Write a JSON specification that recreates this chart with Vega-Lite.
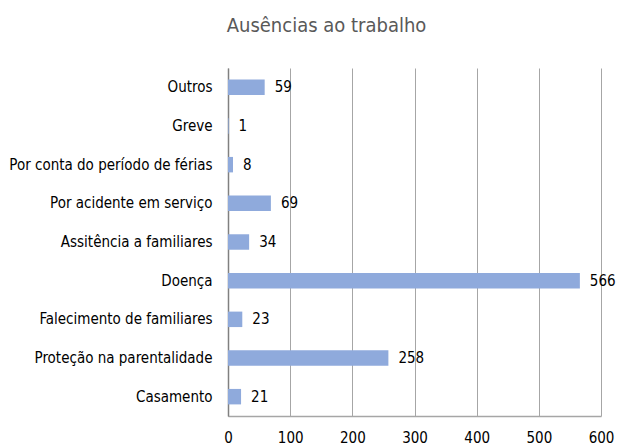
{
  "$schema": "https://vega.github.io/schema/vega-lite/v6.json",
  "width": 373,
  "height": 348,
  "autosize": {"type": "none"},
  "padding": {"left": 228, "top": 68, "right": 16, "bottom": 29},
  "background": "white",
  "title": {
    "text": "Ausências ao trabalho",
    "font": "DejaVu Sans Condensed",
    "fontSize": 20,
    "fontWeight": "normal",
    "color": "#595959",
    "anchor": "middle",
    "dx": -88,
    "baseline": "alphabetic",
    "offset": 16
  },
  "config": {
    "view": {"stroke": null},
    "font": "DejaVu Sans Condensed"
  },
  "data": {
    "values": [
      {"categoria": "Outros", "valor": 59},
      {"categoria": "Greve", "valor": 1},
      {"categoria": "Por conta do período de férias", "valor": 8},
      {"categoria": "Por acidente em serviço ", "valor": 69},
      {"categoria": "Assitência a familiares", "valor": 34},
      {"categoria": "Doença", "valor": 566},
      {"categoria": "Falecimento de familiares", "valor": 23},
      {"categoria": "Proteção na parentalidade", "valor": 258},
      {"categoria": "Casamento", "valor": 21}
    ]
  },
  "encoding": {
    "y": {
      "field": "categoria",
      "type": "nominal",
      "sort": null,
      "scale": {"paddingInner": 0.6, "paddingOuter": 0.3},
      "axis": {
        "title": null,
        "ticks": false,
        "labelPadding": 16,
        "labelFontSize": 15,
        "labelColor": "#000000",
        "labelFont": "DejaVu Sans Condensed",
        "domainColor": "#808080",
        "domainWidth": 1.5,
        "labelLimit": 300
      }
    },
    "x": {
      "field": "valor",
      "type": "quantitative",
      "scale": {"domain": [0, 600], "nice": false},
      "axis": {
        "title": null,
        "values": [0, 100, 200, 300, 400, 500, 600],
        "ticks": false,
        "labelFlush": false,
        "labelOverlap": false,
        "labelPadding": 14,
        "labelFontSize": 15,
        "labelColor": "#000000",
        "labelFont": "DejaVu Sans Condensed",
        "grid": true,
        "gridColor": "#A6A6A6",
        "gridWidth": 1,
        "domainColor": "#A6A6A6",
        "domainWidth": 1.5
      }
    }
  },
  "layer": [
    {"mark": {"type": "bar", "color": "#8FAADC"}},
    {
      "mark": {"type": "text", "align": "left", "dx": 10, "fontSize": 15, "color": "#000000", "font": "DejaVu Sans Condensed"},
      "encoding": {"text": {"field": "valor", "type": "quantitative"}}
    }
  ]
}
